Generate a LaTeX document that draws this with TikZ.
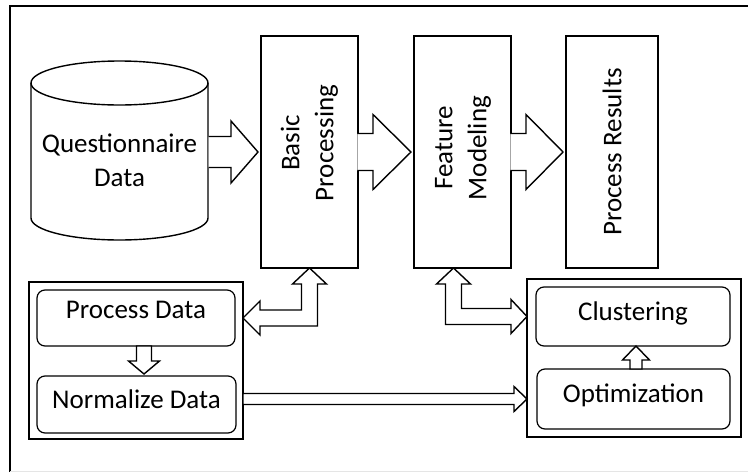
\documentclass[tikz,border=0pt]{standalone}
\usepackage{fontspec}
\setmainfont{Carlito}
\usepackage{graphicx}
\usetikzlibrary{calc}

\begin{document}
\begin{tikzpicture}[x=1pt,y=-1pt,
    font=\fontsize{27}{34}\selectfont,
    box/.style={draw,line width=1.2pt,outer sep=0pt,inner sep=0pt},
    rbox/.style={draw,line width=1.2pt,rounded corners=8pt,outer sep=0pt,text height=18pt,text depth=11pt},
    grp/.style={draw,line width=1.4pt,outer sep=0pt},
    blk/.style={draw,fill=white,line width=1.4pt,line join=miter}]
\useasboundingbox (0,0) rectangle (748,472);
% frame
\draw[line width=2.2pt] (10,472) -- (10,6) -- (748,6);
\draw[gray!20] (10,471) -- (748,471);

% database
\draw[line width=1.4pt] (31,83) -- (31,218) arc[start angle=180,end angle=0,x radius=88.5,y radius=22] -- (208,83);
\draw[line width=1.4pt] (119.5,83) ellipse [x radius=88.5,y radius=22];
\node[align=center] (qdata) at (119.5,160) {Questionnaire\\Data};
\coordinate (qright) at (208,152);

% top row
\node[box,minimum width=97pt,minimum height=232pt] (basic) at (309.5,152)
    {\rotatebox{90}{\hspace{18pt}\begin{tabular}{@{}c@{}}Basic\\Processing\end{tabular}}};
\node[box,minimum width=97pt,minimum height=232pt] (feat) at (462.5,152)
    {\rotatebox{90}{\hspace{8pt}\begin{tabular}{@{}c@{}}Feature\\Modeling\end{tabular}}};
\node[box,line width=2.4pt,minimum width=92pt,minimum height=232pt] (results) at (612,152)
    {\rotatebox{90}{Process Results}};

% bottom groups
\node[grp,minimum width=214pt,minimum height=157pt] (procgrp) at (136,360.5) {};
\node[rbox,text depth=18pt,minimum width=198pt,minimum height=56pt] (procdata) at (136,318) {Process Data};
\node[rbox,minimum width=199pt,minimum height=57pt] (normdata) at (136.5,404.5) {Normalize Data};
\node[grp,minimum width=214pt,minimum height=158pt] (clustgrp) at (634,358) {};
\node[rbox,minimum width=194pt,minimum height=59pt] (clust) at (633,316.5) {Clustering};
\node[rbox,minimum width=193pt,minimum height=60pt] (optim) at (633.5,399) {Optimization};

% block arrows
\filldraw[blk] ($(qright)+(0.7,-15.5)$) -- ++(22.3,0) -- ++(0,-15.5) -- ($(basic.west)+(-3,0)$)
    -- ($(qright)+(23,31)$) -- ++(0,-15.5) -- ($(qright)+(0.7,15.5)$);
\filldraw[blk] ($(basic.east)+(-0.7,-18.5)$) -- ++(15.7,0) -- ++(0,-19) -- ($(feat.west)+(-3,0)$)
    -- ($(basic.east)+(15,37.5)$) -- ++(0,-19) -- ++(-15.7,0);
\filldraw[blk] ($(feat.east)+(-0.7,-18.5)$) -- ++(15.7,0) -- ++(0,-19) -- ($(results.west)+(-3,0)$)
    -- ($(feat.east)+(15,37.5)$) -- ++(0,-19) -- ++(-15.7,0);

% two-way arrows
\coordinate (pdtip) at (procgrp.east |- procdata.east);
\draw[blk] (pdtip) -- ++(17,-17) -- ++(0,9) -- ($(basic.south |- pdtip)+(-8,-8)$)
    -- ($(basic.south)+(-8,16)$) -- ++(-9,0) -- (basic.south) -- ++(17,16) -- ++(-9,0)
    -- ($(basic.south |- pdtip)+(8,8)$) -- ($(pdtip)+(17,8)$) -- ++(0,9) -- cycle;
\coordinate (fmtip) at ($(feat.south)+(-9,0)$);
\coordinate (cltip) at (clustgrp.west |- clust.west);
\draw[blk] (fmtip) -- ++(17,16) -- ++(-9,0) -- ($(fmtip |- cltip)+(8,-8)$)
    -- ($(cltip)+(-16,-8)$) -- ++(0,-9) -- (cltip) -- ++(-16,17) -- ++(0,-9)
    -- ($(fmtip |- cltip)+(-8,8)$) -- ($(fmtip)+(-8,16)$) -- ++(-9,0) -- cycle;

% inner arrows
\coordinate (pdn) at ($(procdata.south)+(8,0)$);
\draw[blk] ($(pdn)+(-7.5,0)$) -- ++(0,15) -- ++(-8,0) -- ($(pdn |- normdata.north)+(0,-2)$)
    -- ++(15.5,-13) -- ++(-8,0) -- ++(0,-15) -- cycle;
\coordinate (opn) at ($(clust.south)+(3,0)$);
\draw[blk] (opn) -- ++(13.5,14) -- ++(-7.5,0) -- ($(opn |- optim.north)+(6,0)$)
    -- ++(-12,0) -- ++(0,-9) -- ++(-7.5,0) -- cycle;
\coordinate (nstart) at (procgrp.east |- optim.west);
\coordinate (ntip) at (clustgrp.west |- optim.west);
\draw[blk] ($(nstart)+(0,-5.5)$) -- ($(ntip)+(-13,-5.5)$) -- ++(0,-7) -- (ntip)
    -- ($(ntip)+(-13,12.5)$) -- ++(0,-7) -- ($(nstart)+(0,5.5)$) -- cycle;
\end{tikzpicture}
\end{document}
